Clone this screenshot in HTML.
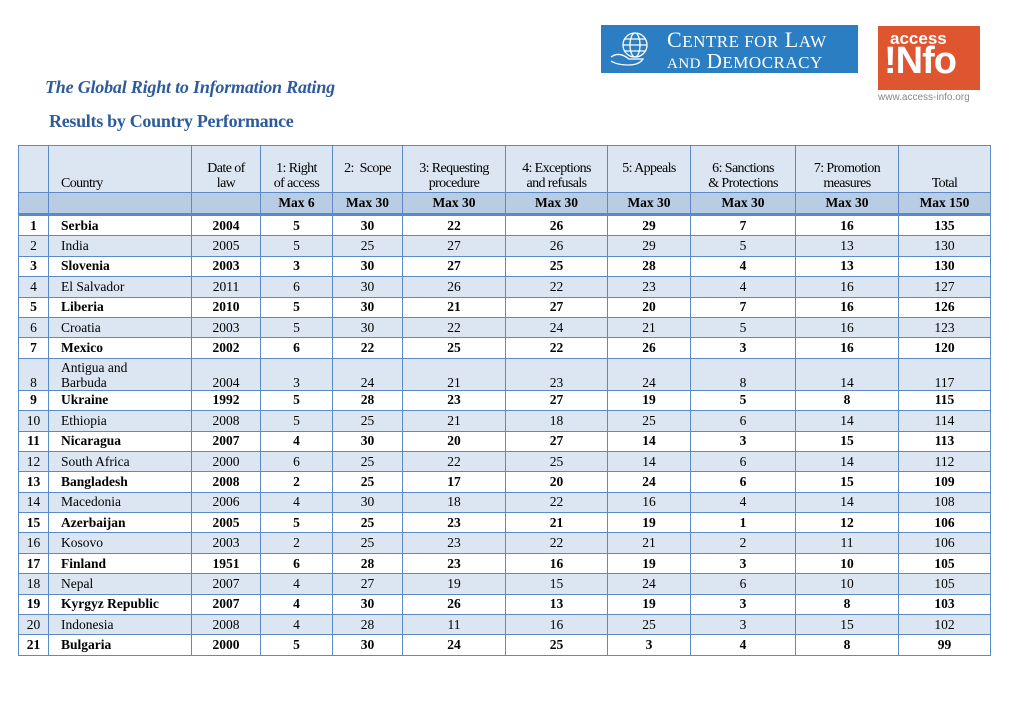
<!DOCTYPE html>
<html><head><meta charset="utf-8"><style>
body{margin:0;width:1024px;height:724px;background:#fff;position:relative;overflow:hidden;font-family:"Liberation Serif",serif;}
.t1{position:absolute;left:45px;top:77px;font:italic bold 18px "Liberation Serif",serif;color:#2e5b9a;letter-spacing:-0.2px}
.t2{position:absolute;left:49px;top:111px;font:bold 18px "Liberation Serif",serif;color:#2e5b9a;letter-spacing:-0.3px}
.cld{position:absolute;left:601px;top:25px;width:257px;height:48px;background:#2b7ec1;color:#fff;font:17px "Liberation Serif",serif;letter-spacing:0.5px}
.ai{position:absolute;left:878px;top:26px;width:102px;height:64px;background:#df5530;color:#fff;font-family:"Liberation Sans",sans-serif;font-weight:bold}
table{position:absolute;left:18px;top:145px;border-collapse:collapse;table-layout:fixed;font-size:13.5px}
td{border:1.5px solid #5b8ac6;padding:0 3px;text-align:center;white-space:nowrap;line-height:14px}
tr.h td{height:45px;vertical-align:bottom;background:#dce6f2;font-size:14px;line-height:15px;padding-bottom:1px;letter-spacing:-0.6px}
tr.m td{height:20px;background:#b8cce4;font-weight:bold;border-bottom:3px solid #5b8ac6}
tr.r td{height:19.4px}
tr.o td{font-weight:bold;background:#fff}
tr.e td{background:#dce6f2}
td.c{text-align:left;padding-left:12px}
</style></head><body>
<div class="cld"><svg width="44" height="40" style="position:absolute;left:8px;top:4px" viewBox="0 0 44 40" fill="none" stroke="#fff" stroke-width="1.3"><circle cx="26" cy="16" r="12"/><ellipse cx="26" cy="16" rx="5" ry="12"/><line x1="14" y1="16" x2="38" y2="16"/><line x1="16" y1="10" x2="36" y2="10"/><line x1="16" y1="22" x2="36" y2="22"/><path d="M2 28 Q10 22 20 30 L34 30 Q30 36 20 36 Q8 36 2 32"/></svg>
<div style="position:absolute;left:66px;top:2px;font-size:22px">C<span style="font-size:17px">ENTRE FOR</span> L<span style="font-size:17px">AW</span></div>
<div style="position:absolute;left:66px;top:24px;font-size:21px"><span style="font-size:15px">AND</span> D<span style="font-size:17px">EMOCRACY</span></div></div>
<div class="ai"><div style="position:absolute;left:12px;top:3px;font-size:17px">access</div><div style="position:absolute;left:6px;top:14px;font-size:38px;letter-spacing:-1px">!Nfo</div></div>
<div style="position:absolute;left:878px;top:92px;font:10px 'Liberation Sans',sans-serif;color:#888">www.access-info.org</div>
<div class="t1">The Global Right to Information Rating</div>
<div class="t2">Results by Country Performance</div>
<table>
<colgroup><col style="width:30px"><col style="width:143px"><col style="width:69px"><col style="width:72px"><col style="width:70px"><col style="width:103px"><col style="width:102px"><col style="width:83px"><col style="width:105px"><col style="width:103px"><col style="width:92px"></colgroup>
<tr class="h"><td></td><td class="c">Country</td><td>Date of<br>law</td><td>1: Right<br>of access</td><td>2:&nbsp; Scope<br>&nbsp;</td><td>3: Requesting<br>procedure</td><td>4: Exceptions<br>and refusals</td><td>5: Appeals<br>&nbsp;</td><td>6: Sanctions<br>&amp; Protections</td><td>7: Promotion<br>measures</td><td>Total</td></tr>
<tr class="m"><td></td><td></td><td></td><td>Max 6</td><td>Max 30</td><td>Max 30</td><td>Max 30</td><td>Max 30</td><td>Max 30</td><td>Max 30</td><td>Max 150</td></tr>
<tr class="r o"><td>1</td><td class="c">Serbia</td><td>2004</td><td>5</td><td>30</td><td>22</td><td>26</td><td>29</td><td>7</td><td>16</td><td>135</td></tr>
<tr class="r e"><td>2</td><td class="c">India</td><td>2005</td><td>5</td><td>25</td><td>27</td><td>26</td><td>29</td><td>5</td><td>13</td><td>130</td></tr>
<tr class="r o"><td>3</td><td class="c">Slovenia</td><td>2003</td><td>3</td><td>30</td><td>27</td><td>25</td><td>28</td><td>4</td><td>13</td><td>130</td></tr>
<tr class="r e"><td>4</td><td class="c">El Salvador</td><td>2011</td><td>6</td><td>30</td><td>26</td><td>22</td><td>23</td><td>4</td><td>16</td><td>127</td></tr>
<tr class="r o"><td>5</td><td class="c">Liberia</td><td>2010</td><td>5</td><td>30</td><td>21</td><td>27</td><td>20</td><td>7</td><td>16</td><td>126</td></tr>
<tr class="r e"><td>6</td><td class="c">Croatia</td><td>2003</td><td>5</td><td>30</td><td>22</td><td>24</td><td>21</td><td>5</td><td>16</td><td>123</td></tr>
<tr class="r o"><td>7</td><td class="c">Mexico</td><td>2002</td><td>6</td><td>22</td><td>25</td><td>22</td><td>26</td><td>3</td><td>16</td><td>120</td></tr>
<tr class="e" style="vertical-align:bottom"><td style="height:31px">8</td><td class="c" style="line-height:15px">Antigua and<br>Barbuda</td><td>2004</td><td>3</td><td>24</td><td>21</td><td>23</td><td>24</td><td>8</td><td>14</td><td>117</td></tr>
<tr class="r o"><td>9</td><td class="c">Ukraine</td><td>1992</td><td>5</td><td>28</td><td>23</td><td>27</td><td>19</td><td>5</td><td>8</td><td>115</td></tr>
<tr class="r e"><td>10</td><td class="c">Ethiopia</td><td>2008</td><td>5</td><td>25</td><td>21</td><td>18</td><td>25</td><td>6</td><td>14</td><td>114</td></tr>
<tr class="r o"><td>11</td><td class="c">Nicaragua</td><td>2007</td><td>4</td><td>30</td><td>20</td><td>27</td><td>14</td><td>3</td><td>15</td><td>113</td></tr>
<tr class="r e"><td>12</td><td class="c">South Africa</td><td>2000</td><td>6</td><td>25</td><td>22</td><td>25</td><td>14</td><td>6</td><td>14</td><td>112</td></tr>
<tr class="r o"><td>13</td><td class="c">Bangladesh</td><td>2008</td><td>2</td><td>25</td><td>17</td><td>20</td><td>24</td><td>6</td><td>15</td><td>109</td></tr>
<tr class="r e"><td>14</td><td class="c">Macedonia</td><td>2006</td><td>4</td><td>30</td><td>18</td><td>22</td><td>16</td><td>4</td><td>14</td><td>108</td></tr>
<tr class="r o"><td>15</td><td class="c">Azerbaijan</td><td>2005</td><td>5</td><td>25</td><td>23</td><td>21</td><td>19</td><td>1</td><td>12</td><td>106</td></tr>
<tr class="r e"><td>16</td><td class="c">Kosovo</td><td>2003</td><td>2</td><td>25</td><td>23</td><td>22</td><td>21</td><td>2</td><td>11</td><td>106</td></tr>
<tr class="r o"><td>17</td><td class="c">Finland</td><td>1951</td><td>6</td><td>28</td><td>23</td><td>16</td><td>19</td><td>3</td><td>10</td><td>105</td></tr>
<tr class="r e"><td>18</td><td class="c">Nepal</td><td>2007</td><td>4</td><td>27</td><td>19</td><td>15</td><td>24</td><td>6</td><td>10</td><td>105</td></tr>
<tr class="r o"><td>19</td><td class="c">Kyrgyz Republic</td><td>2007</td><td>4</td><td>30</td><td>26</td><td>13</td><td>19</td><td>3</td><td>8</td><td>103</td></tr>
<tr class="r e"><td>20</td><td class="c">Indonesia</td><td>2008</td><td>4</td><td>28</td><td>11</td><td>16</td><td>25</td><td>3</td><td>15</td><td>102</td></tr>
<tr class="r o"><td>21</td><td class="c">Bulgaria</td><td>2000</td><td>5</td><td>30</td><td>24</td><td>25</td><td>3</td><td>4</td><td>8</td><td>99</td></tr>
</table>
</body></html>
